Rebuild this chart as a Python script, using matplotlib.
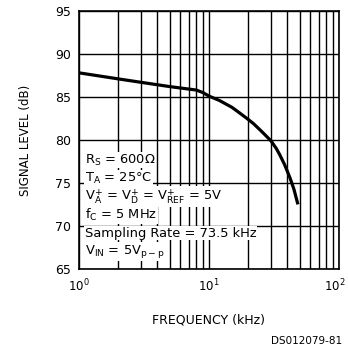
import matplotlib.pyplot as plt
import matplotlib.transforms as mtransforms
from matplotlib.ticker import LogLocator, NullFormatter

# Data
freq_khz = [1, 2, 3, 5, 8, 9, 10, 12, 15, 17, 20, 22, 25, 27, 30, 33, 35, 38, 40, 42, 45, 48]
signal_db = [87.8, 87.1, 86.7, 86.2, 85.8, 85.5, 85.1, 84.6, 83.8, 83.2, 82.4, 81.9,
             81.1, 80.6, 79.9, 79.0, 78.3, 77.2, 76.4, 75.6, 74.3, 72.7]

x_ticks = [1, 10, 100]
x_labels = [r'$10^0$', r'$10^1$', r'$10^2$']
y_ticks = [65, 70, 75, 80, 85, 90, 95]

conditions = [
    r'R$_\mathregular{S}$ = 600$\Omega$',
    r'T$_\mathregular{A}$ = 25°C',
    r'V$_\mathregular{A}^\mathregular{+}$ = V$_\mathregular{D}^\mathregular{+}$ = V$_\mathregular{REF}^\mathregular{+}$ = 5V',
    r'f$_\mathregular{C}$ = 5 MHz',
    'Sampling Rate = 73.5 kHz',
    r'V$_\mathregular{IN}$ = 5V$_\mathregular{p-p}$',
]

plt.rcParams['font.family'] = 'DejaVu Sans'

fig = plt.figure(figsize=(3.48, 3.50), dpi=100)
ax = fig.add_axes([0.227, 0.231, 0.747, 0.738])

ax.plot(freq_khz, signal_db, color='black', linewidth=2.3, zorder=3,
        solid_joinstyle='round')

ax.set_xscale('log')
ax.set_xlim(1, 100)
ax.set_ylim(65, 95)
ax.set_yticks(y_ticks)
ax.set_xticks(x_ticks, labels=x_labels)
ax.xaxis.set_minor_locator(LogLocator(base=10, subs=range(2, 10)))
ax.xaxis.set_minor_formatter(NullFormatter())

ax.grid(True, which='both', axis='x', color='black', linewidth=1.0)
ax.grid(True, which='major', axis='y', color='black', linewidth=1.0)
ax.tick_params(which='both', length=0, labelsize=9, pad=6)
ax.tick_params(axis='x', labelsize=8.5)
for s in ax.spines.values():
    s.set_linewidth(1.2)

# keep the 10^2 label inside the figure edge
last = ax.xaxis.get_major_ticks()[-1].label1
last.set_transform(last.get_transform() +
                   mtransforms.ScaledTranslation(-4 / 100, 0, fig.dpi_scale_trans))

ax.set_xlabel('FREQUENCY (kHz)', fontsize=9, labelpad=14)
ax.set_ylabel('SIGNAL LEVEL (dB)', fontsize=8.5, labelpad=16)

# condition notes, each line on a white background over the grid
y0 = 160
for i, line in enumerate(conditions):
    fig.text(85 / 348, 1 - (y0 + i * 18.3) / 350, line, fontsize=9.4,
             va='center', ha='left', zorder=5,
             bbox=dict(facecolor='white', edgecolor='none', pad=0.6))

fig.text(342 / 348, 1 - 341 / 350, 'DS012079-81', fontsize=7.5,
         ha='right', va='center')

fig.savefig('out.png', dpi=100)
